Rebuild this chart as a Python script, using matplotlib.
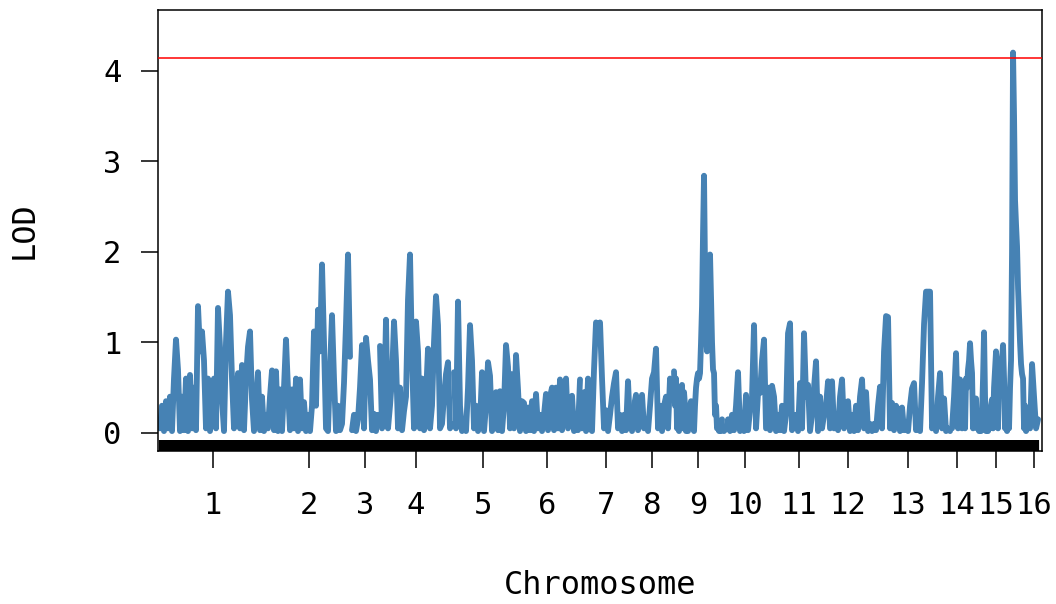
import matplotlib
matplotlib.use("Agg")
import matplotlib.pyplot as plt
import matplotlib.transforms as mtransforms
import numpy as np

chrom_names = [str(i) for i in range(1, 17)]
chrom_len_cm = [530, 410, 130, 360, 290, 330, 240, 200, 240, 210, 310, 160, 420, 50, 320, 40]
gap_cm = 10
threshold = 4.14

lod_chr1 = [0.05, 0.3, 0.02, 0.35, 0.05, 0.4, 0.02, 0.6, 1.03, 0.7, 0.02, 0.4, 0.03, 0.6,
            0.02, 0.64, 0.05, 0.5, 0.03, 1.4, 0.9, 1.12, 0.8, 0.05, 0.6, 0.02, 0.4, 0.6,
            0.05, 1.38, 0.95, 0.37, 0.02, 1.0, 1.56, 1.3, 0.6, 0.05, 0.3, 0.66, 0.05, 0.75,
            0.03, 0.6, 0.95, 1.12, 0.37, 0.02, 0.3, 0.67, 0.03, 0.4, 0.02, 0.2]
lod_chr2 = [0.05, 0.4, 0.69, 0.03, 0.68, 0.02, 0.48, 0.02, 0.5, 1.03, 0.48, 0.03, 0.48, 0.05,
            0.6, 0.02, 0.59, 0.05, 0.34, 0.02, 0.2, 0.02, 0.3, 1.12, 0.3, 1.36, 0.9, 1.86,
            1.0, 0.05, 0.02, 0.7, 1.3, 0.6, 0.02, 0.3, 0.03, 0.1, 0.55, 1.2, 1.97, 0.84]
lod_chr3 = [0.03, 0.2, 0.02, 0.15, 0.5, 0.97, 0.05, 1.05, 0.8, 0.59, 0.03, 0.21, 0.02, 0.2]
lod_chr4 = [0.96, 0.05, 0.2, 1.25, 0.05, 0.3, 0.6, 1.23, 0.8, 0.05, 0.5, 0.03, 0.24, 0.4,
            1.47, 1.97, 0.84, 0.05, 1.23, 0.9, 0.05, 0.6, 0.03, 0.4, 0.93, 0.05, 0.3, 1.0,
            1.51, 1.19, 0.05, 0.1, 0.4, 0.65, 0.78, 0.05, 0.1]
lod_chr5 = [0.67, 0.05, 1.45, 0.3, 0.02, 0.1, 0.02, 0.5, 1.19, 0.8, 0.05, 0.3, 0.02, 0.1,
            0.67, 0.02, 0.3, 0.78, 0.63, 0.02, 0.1, 0.45, 0.03, 0.46, 0.02, 0.3, 0.97, 0.73,
            0.05, 0.65]
lod_chr6 = [0.05, 0.86, 0.48, 0.02, 0.35, 0.33, 0.02, 0.28, 0.03, 0.35, 0.02, 0.43, 0.05, 0.2,
            0.02, 0.2, 0.43, 0.03, 0.4, 0.5, 0.03, 0.5, 0.05, 0.59, 0.03, 0.45, 0.6, 0.05,
            0.2, 0.41, 0.02, 0.1, 0.03, 0.59]
lod_chr7 = [0.05, 0.45, 0.02, 0.6, 0.05, 0.02, 0.7, 1.22, 1.2, 1.22, 0.6, 0.05, 0.25, 0.02,
            0.2, 0.4, 0.55, 0.67, 0.05, 0.2, 0.02, 0.2, 0.03, 0.57, 0.05]
lod_chr8 = [0.02, 0.3, 0.42, 0.03, 0.2, 0.42, 0.05, 0.1, 0.02, 0.3, 0.6, 0.67, 0.93, 0.05,
            0.3, 0.02, 0.3, 0.4, 0.05, 0.6, 0.4]
lod_chr9 = [0.68, 0.3, 0.6, 0.05, 0.3, 0.02, 0.3, 0.5, 0.53, 0.05, 0.45, 0.3, 0.02, 0.05,
            0.02, 0.2, 0.29, 0.35, 0.05, 0.2, 0.02, 0.3, 0.5, 0.6, 0.66, 0.6, 0.66, 1.0,
            1.4, 2.2, 2.84, 1.8, 1.1, 0.9, 1.4, 1.8, 1.97, 1.5, 1.0, 0.7, 0.66, 0.2,
            0.3, 0.05, 0.1, 0.02, 0.1, 0.02, 0.15]
lod_chr10 = [0.02, 0.05, 0.15, 0.02, 0.2, 0.03, 0.3, 0.67, 0.02, 0.1, 0.02, 0.42, 0.03, 0.25,
             0.4, 1.19, 0.05, 0.44, 0.44, 0.8, 1.03, 0.05]
lod_chr11 = [0.5, 0.03, 0.52, 0.4, 0.02, 0.2, 0.03, 0.3, 0.02, 0.2, 1.1, 1.21, 0.03, 0.1,
             0.2, 0.02, 0.55, 0.05, 1.1, 0.4, 0.53, 0.02, 0.2, 0.5, 0.79, 0.02, 0.4, 0.05,
             0.2, 0.3, 0.57, 0.05]
lod_chr12 = [0.57, 0.05, 0.2, 0.03, 0.4, 0.59, 0.05, 0.3, 0.35, 0.02, 0.2, 0.02, 0.3, 0.03,
             0.4, 0.59, 0.05]
lod_chr13 = [0.45, 0.02, 0.1, 0.02, 0.1, 0.03, 0.3, 0.51, 0.05, 0.9, 1.29, 1.28, 0.05, 0.33,
             0.03, 0.3, 0.24, 0.02, 0.28, 0.03, 0.1, 0.02, 0.3, 0.49, 0.55, 0.03, 0.1, 0.02,
             0.55, 1.2, 1.56, 1.56, 1.56, 0.05, 0.15, 0.02, 0.4, 0.66, 0.05, 0.38, 0.02, 0.05,
             0.02]
lod_chr14 = [0.05, 0.4, 0.88, 0.05, 0.59, 0.05]
lod_chr15 = [0.4, 0.05, 0.6, 0.5, 0.7, 0.8, 0.99, 0.8, 0.66, 0.05, 0.3, 0.35, 0.38, 0.05,
             0.2, 0.02, 0.1, 0.02, 0.2, 0.6, 1.11, 0.4, 0.02, 0.12, 0.02, 0.18, 0.05, 0.3,
             0.37, 0.05, 0.5, 0.7, 0.9, 0.75, 0.05, 0.65, 0.7, 0.75, 0.8, 0.97, 0.6, 0.05,
             0.2, 0.02, 0.18, 0.05, 0.5, 0.8, 2.0, 4.2, 3.5, 2.57, 2.3, 2.06, 1.6, 1.3,
             1.0, 0.76, 0.65, 0.6, 0.05, 0.3, 0.02, 0.2, 0.05]
lod_chr16 = [0.05, 0.76, 0.4, 0.05, 0.15]

lod_all = [lod_chr1, lod_chr2, lod_chr3, lod_chr4, lod_chr5, lod_chr6, lod_chr7, lod_chr8,
           lod_chr9, lod_chr10, lod_chr11, lod_chr12, lod_chr13, lod_chr14, lod_chr15, lod_chr16]

plt.rcParams['font.family'] = ['DejaVu Sans Mono']

fig = plt.figure(figsize=(10.56, 6.04), dpi=100)
ax = fig.add_axes([0.1499, 0.2533, 0.8366, 0.7301])

starts = np.cumsum([0] + [l + gap_cm for l in chrom_len_cm[:-1]])
mids = []
rug_trans = mtransforms.blended_transform_factory(ax.transData, ax.transAxes)
for s, l, lod in zip(starts, chrom_len_cm, lod_all):
    pos = np.linspace(s, s + l, len(lod))
    ax.plot(pos, lod, color='steelblue', lw=4.2, solid_capstyle='round',
            solid_joinstyle='round', zorder=2)
    ax.vlines(pos, 0, 0.025, color='black', lw=1.6, transform=rug_trans, zorder=3)
    mids.append(s + l / 2)

ax.axhline(threshold, color='red', lw=1.1, zorder=4)

ax.set_xlim(-8.5, starts[-1] + chrom_len_cm[-1] + 18.5)
ax.set_ylim(-0.2, 4.67)
ax.set_yticks([0, 1, 2, 3, 4])
ax.set_xticks(mids)
ax.set_xticklabels(chrom_names)
ax.tick_params(axis='both', labelsize=22, length=12.5, width=1.1)
ax.tick_params(axis='y', pad=14)
ax.tick_params(axis='x', pad=16)
for sp in ax.spines.values():
    sp.set_linewidth(1.1)

ax.set_xlabel('Chromosome', fontsize=23, labelpad=36)
ax.set_ylabel('LOD', fontsize=23, labelpad=46)

fig.savefig('out.png', dpi=100)
